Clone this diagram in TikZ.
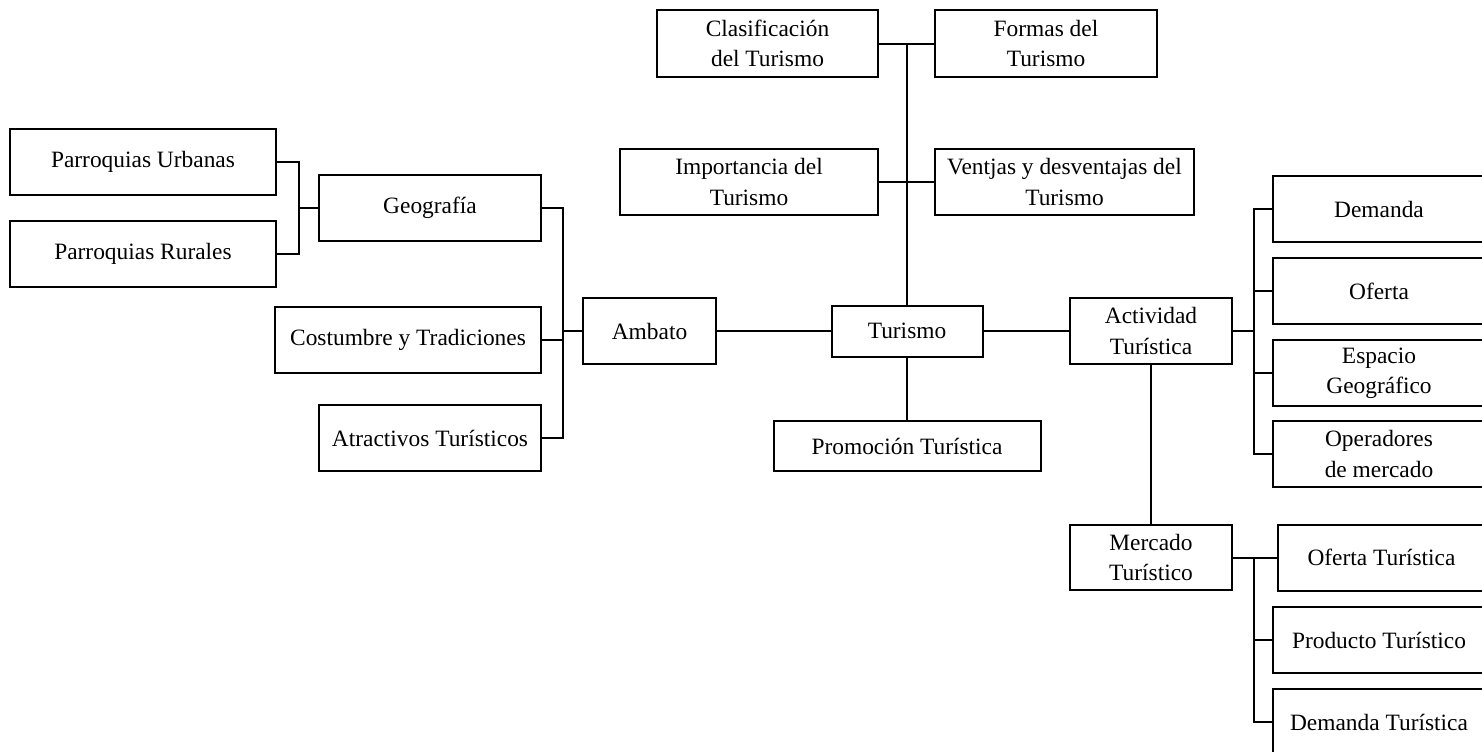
\documentclass[tikz,border=0pt]{standalone}
\usepackage{fontspec}
\setmainfont{Liberation Serif}
\usepackage{tikz}
\usetikzlibrary{calc}

\begin{document}
\begin{tikzpicture}[x=0.5pt,y=-0.5pt,line width=1pt,
  caja/.style={draw,align=center,inner sep=0pt,minimum height=33pt,font=\fontsize{11.7}{15.2}\selectfont},
  lado/.style={caja,minimum width=106pt}]
\useasboundingbox (0,0) rectangle (1482,751);
\node[caja,minimum width=133pt] (purb) at (143,162) {Parroquias Urbanas};
\node[caja,minimum width=133pt] (prur) at (143,254) {Parroquias Rurales};
\node[caja,minimum width=111pt] (geo) at (430,208) {Geografía};
\node[caja,minimum width=133pt] (cost) at (408,340) {Costumbre y Tradiciones};
\node[caja,minimum width=111pt] (atra) at (430,438) {Atractivos Turísticos};
\node[caja,minimum width=66.5pt] (amb) at (649.5,331) {Ambato};
\node[caja,minimum width=75.5pt,minimum height=25.5pt] (tur) at (907,331) {Turismo};
\node[caja,minimum width=133.5pt,minimum height=25pt] (prom) at (907,446) {Promoción Turística};
\node[caja,minimum width=110.5pt,minimum height=33.5pt] (clas) at (767.5,43.5) {Clasificación\\del Turismo};
\node[caja,minimum width=111pt,minimum height=33.5pt] (form) at (1046,43.5) {Formas del\\Turismo};
\node[caja,minimum width=129pt] (imp) at (749,182) {Importancia del\\Turismo};
\node[caja,minimum width=129.5pt] (vent) at (1064.5,182) {Ventjas y desventajas del\\Turismo};
\node[caja,minimum width=81pt] (act) at (1151,331) {Actividad\\Turística};
\node[lado] (dem) at (1379,209) {Demanda};
\node[lado] (ofe) at (1379,291) {Oferta};
\node[lado] (esp) at (1379,373) {Espacio\\Geográfico};
\node[lado] (ope) at (1379,454) {Operadores\\de mercado};
\node[caja,minimum width=81pt,minimum height=32.5pt] (merc) at (1151,557.5) {Mercado\\Turístico};
\node[lado,minimum width=103.5pt] (oftur) at (1381.5,557.5) {Oferta Turística};
\node[lado] (prod) at (1379,640) {Producto Turístico};
\node[lado] (demtur) at (1379,722) {Demanda Turística};
\draw (purb.east) -- ++(22,0) |- (geo.west);
\draw (prur.east) -- ++(22,0) |- (geo.west);
\draw (geo.east) -- ++(21,0) |- (amb.west);
\draw (cost.east) -- ++(21,0) |- (amb.west);
\draw (atra.east) -- ++(21,0) |- (amb.west);
\draw (amb.east) -- (tur.west);
\draw (tur.north) -- (tur.north |- clas.east);
\draw (clas.east) -- (form.west);
\draw (imp.east) -- (vent.west);
\draw (tur.south) -- (prom.north);
\draw (tur.east) -- (act.west);
\draw (act.east) -- ++(21,0) |- (dem.west);
\draw (act.east) -- ++(21,0) |- (ofe.west);
\draw (act.east) -- ++(21,0) |- (esp.west);
\draw (act.east) -- ++(21,0) |- (ope.west);
\draw (act.south) -- (merc.north);
\draw (merc.east) -- (oftur.west);
\draw (merc.east) -- ++(21,0) |- (prod.west);
\draw (merc.east) -- ++(21,0) |- (demtur.west);
\end{tikzpicture}
\end{document}
